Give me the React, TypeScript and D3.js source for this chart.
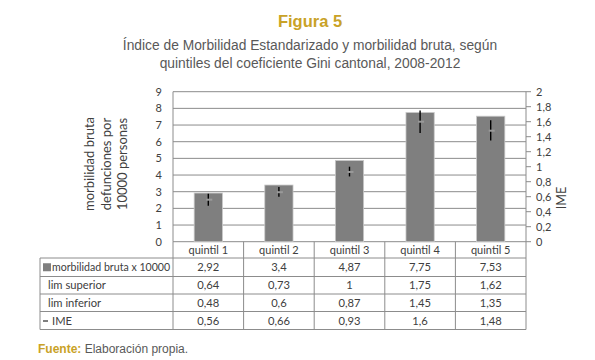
import React from 'react'
import * as d3 from 'd3'

const categories = ['quintil 1', 'quintil 2', 'quintil 3', 'quintil 4', 'quintil 5']
const morbilidad = [2.92, 3.4, 4.87, 7.75, 7.53]
const limSuperior = [0.64, 0.73, 1, 1.75, 1.62]
const limInferior = [0.48, 0.6, 0.87, 1.45, 1.35]
const ime = [0.56, 0.66, 0.93, 1.6, 1.48]
const leftTicks = [0, 1, 2, 3, 4, 5, 6, 7, 8, 9]
const rightTicks = [0, 0.2, 0.4, 0.6, 0.8, 1, 1.2, 1.4, 1.6, 1.8, 2]
const tableRows = [
  { label: 'morbilidad bruta x 10000', values: morbilidad, key: 'bar' },
  { label: 'lim superior', values: limSuperior, key: 'none' },
  { label: 'lim inferior', values: limInferior, key: 'none' },
  { label: 'IME', values: ime, key: 'dash' },
]

const W = 595
const H = 360
const left = 173
const right = 526
const top = 91.7
const bottom = 241.7
const tableLeft = 40
const rowTops = [258, 276.5, 294, 311.5, 329.5]

const gridColor = '#8c8c8c'
const barColor = '#7f7f7f'
const gold = '#c9a227'
const textGrey = '#595959'
const font = 'Lato, "Open Sans", sans-serif'
const fmt = (v: number) => String(v).replace('.', ',')

export default function App() {
  const x = d3.scaleBand<string>().domain(categories).range([left, right]).padding(0)
  const yL = d3.scaleLinear().domain([0, 9]).range([bottom, top])
  const yR = d3.scaleLinear().domain([0, 2]).range([bottom, top])
  const bw = x.bandwidth() * 0.4

  return (
    <svg width={W} height={H} style={{ position: 'absolute', left: 0, top: 0, background: '#fff' }}>
      {/* titles */}
      <text x={310} y={27} textAnchor="middle" fill={gold} fontFamily="Liberation Sans, Arial, sans-serif" fontSize={16.5} fontWeight="bold">Figura 5</text>
      <text x={310} y={50} textAnchor="middle" fill={textGrey} fontFamily="Liberation Sans, Arial, sans-serif" fontSize={13.8}>Índice de Morbilidad Estandarizado y morbilidad bruta, según</text>
      <text x={310} y={68} textAnchor="middle" fill={textGrey} fontFamily="Liberation Sans, Arial, sans-serif" fontSize={13.8}>quintiles del coeficiente Gini cantonal, 2008-2012</text>

      {/* grid */}
      {leftTicks.map(t => (
        <line key={t} x1={left} x2={right} y1={yL(t)} y2={yL(t)} stroke={gridColor} strokeWidth={1} />
      ))}
      <line x1={left} x2={left} y1={top} y2={bottom} stroke={gridColor} />
      <line x1={right} x2={right} y1={top} y2={bottom} stroke={gridColor} />

      {/* left axis labels */}
      {leftTicks.map(t => (
        <text key={t} x={162} y={yL(t) + 4} textAnchor="end" fontFamily={font} fontSize={11} fill="#404040">{t}</text>
      ))}
      <g transform="translate(106,164) rotate(-90)" fontFamily={font} fontSize={13} fill="#404040" textAnchor="middle">
        <text x={0} y={-12}>morbilidad bruta</text>
        <text x={0} y={4.5}>defunciones por</text>
        <text x={0} y={21}>10000 personas</text>
      </g>

      {/* right axis */}
      {rightTicks.map(t => (
        <g key={t}>
          <line x1={right} x2={right + 5} y1={yR(t)} y2={yR(t)} stroke={gridColor} />
          <text x={536} y={yR(t) + 4} fontFamily={font} fontSize={11} fill="#404040">{fmt(t)}</text>
        </g>
      ))}
      <text transform="translate(566,198) rotate(-90)" textAnchor="middle" fontFamily={font} fontSize={12.5} fill="#404040">IME</text>

      {/* bars */}
      {categories.map((c, i) => {
        const cx = (x(c) as number) + x.bandwidth() / 2
        return (
          <g key={c}>
            <rect x={cx - bw / 2} y={yL(morbilidad[i])} width={bw} height={bottom - yL(morbilidad[i])} fill={barColor} stroke="#c8c8c8" strokeWidth={0.8} />
            <line x1={cx} x2={cx} y1={yR(limInferior[i])} y2={yR(limSuperior[i])} stroke="#000" strokeWidth={1.4} />
            <line x1={cx - 2} x2={cx + 4} y1={yR(ime[i])} y2={yR(ime[i])} stroke="#9a9a9a" strokeWidth={2} />
          </g>
        )
      })}

      {/* category row */}
      {categories.map((c, i) => (
        <g key={c}>
          <line x1={(x(c) as number) + x.bandwidth()} x2={(x(c) as number) + x.bandwidth()} y1={bottom} y2={rowTops[0]} stroke={gridColor} />
          <text x={(x(c) as number) + x.bandwidth() / 2} y={bottom + 12.5} textAnchor="middle" fontFamily={font} fontSize={11} fill="#404040">{c}</text>
        </g>
      ))}

      {/* data table */}
      {rowTops.map((yy, i) => (
        <line key={i} x1={tableLeft} x2={right} y1={yy} y2={yy} stroke={gridColor} />
      ))}
      <line x1={tableLeft} x2={tableLeft} y1={rowTops[0]} y2={rowTops[4]} stroke={gridColor} />
      {categories.map(c => (
        <line key={c} x1={(x(c) as number) + x.bandwidth()} x2={(x(c) as number) + x.bandwidth()} y1={rowTops[0]} y2={rowTops[4]} stroke={gridColor} />
      ))}
      <line x1={left} x2={left} y1={bottom} y2={rowTops[4]} stroke={gridColor} />
      {tableRows.map((r, ri) => {
        const ty = (rowTops[ri] + rowTops[ri + 1]) / 2 + 4
        return (
          <g key={r.label}>
            {r.key === 'bar' && <rect x={43} y={ty - 8} width={8} height={8} fill={barColor} />}
            {r.key === 'dash' && <line x1={43} x2={48} y1={ty - 3.5} y2={ty - 3.5} stroke="#555" strokeWidth={1.5} />}
            <text x={r.key === 'none' ? 48 : 52} y={ty} fontFamily={font} fontSize={r.key === 'bar' ? 10.6 : 11.2} fill="#404040">{r.label}</text>
            {r.values.map((v, i) => (
              <text key={i} x={(x(categories[i]) as number) + x.bandwidth() / 2} y={ty} textAnchor="middle" fontFamily={font} fontSize={11.2} fill="#404040">{fmt(v)}</text>
            ))}
          </g>
        )
      })}

      {/* source */}
      <text x={38} y={353} fontFamily="Liberation Sans, Arial, sans-serif" fontSize={12}>
        <tspan fill={gold} fontWeight="bold">Fuente:</tspan>
        <tspan fill={textGrey}> Elaboración propia.</tspan>
      </text>
    </svg>
  )
}
